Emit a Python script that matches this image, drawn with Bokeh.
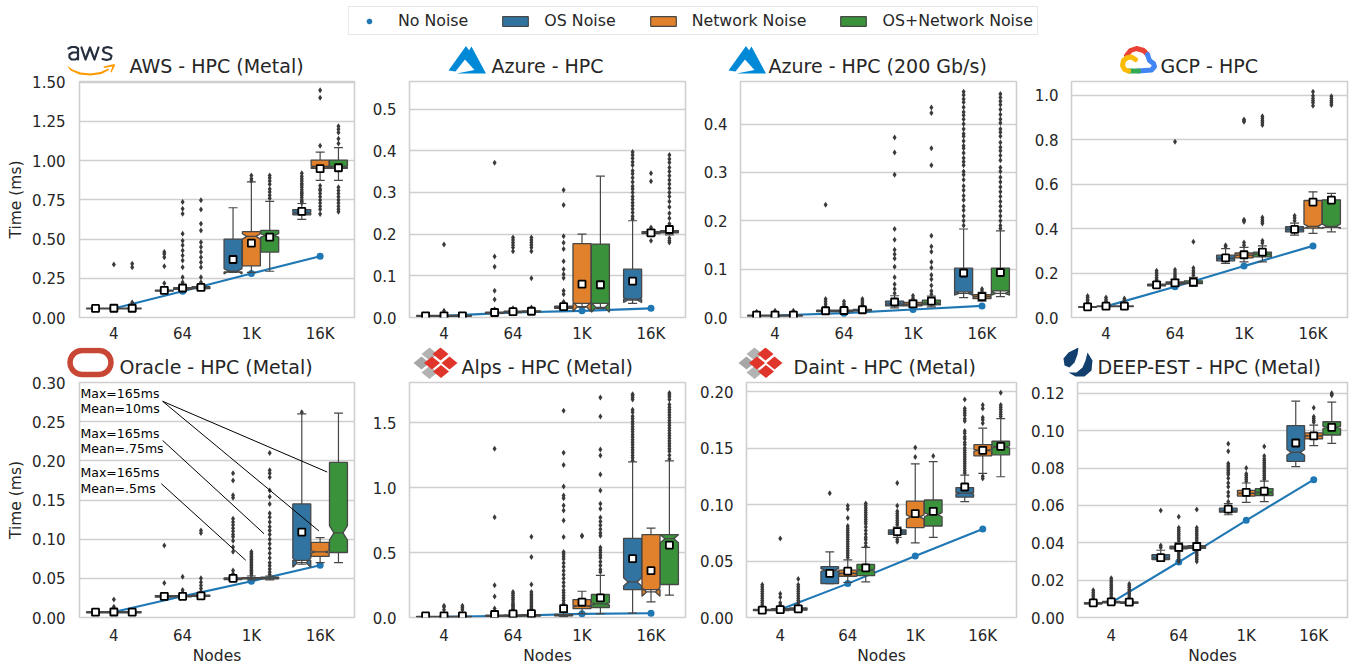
from bokeh.plotting import figure
from bokeh.embed import file_html
from bokeh.resources import INLINE
from bokeh.layouts import column, row
from bokeh.models import (Range1d, FixedTicker, Legend, LegendItem, ColumnDataSource)
from bokeh.core.properties import value
import math

NAN = float("nan")
FONT = "DejaVu Sans"
INK = "#262626"
GROUPS = ["4", "64", "1K", "16K"]
SERIES = ["OS Noise", "Network Noise", "OS+Network Noise"]
NO_NOISE_LABEL = "No Noise"
COLORS = ["#3274a1", "#e1812c", "#3a923a"]
LINE_BLUE = "#1f77b4"

# ---------- AWS
AWS_TITLE = "AWS - HPC (Metal)"
AWS_TICKS = ["0.00", "0.25", "0.50", "0.75", "1.00", "1.25", "1.50"]
AWS_TOP = 1.505
AWS_NONOISE = [0.058, 0.167, 0.28, 0.39]
AWS_Q1 = [.055, .055, .055, .168, .180, .184, .290, .329, .417, .655, .951, .951]
AWS_MED = [.057, .057, .057, .171, .185, .190, .295, .517, .523, .668, .962, .962]
AWS_Q3 = [.059, .059, .059, .174, .190, .196, .500, .547, .555, .688, 1.004, 1.004]
AWS_WLO = [.053, .053, .053, .165, .175, .178, .288, .288, .295, .626, .874, .874]
AWS_WHI = [.061, .061, .061, .180, .195, .205, .700, .865, .741, .727, 1.055, 1.083]
AWS_MEAN = [.058, .059, .059, .173, .188, .192, .370, .474, .513, .677, .949, .955]
AWS_FLIERS = [
    [], [.338], [.342, .32, .096],
    [.417, .405, .385, .327, .218], [.737, .694, .662, .534, .49, .46, .427, .395, .363, .32, .256, .224],
    [.748, .688, .598, .555, .48, .449, .417, .385, .352, .32, .256, .224],
    [], [.87, .885, .905], [.905, .89, .87, .85, .82, .8, .78, .76],
    [.73, .74, .75, .765, .78, .79, .8, .815, .83, .845, .855, .87, .885, .9, .92],
    [1.096, 1.449, 1.402, .84, .82, .81, .79, .77, .75, .73, .71, .69, .66],
    [1.22, 1.2, 1.18, 1.14, 1.11, .83, .81, .79, .77, .75, .73, .71, .69, .675]]

# ---------- Azure HPC
AZ_TITLE = "Azure - HPC"
AZ_TICKS = ["0.0", "0.1", "0.2", "0.3", "0.4", "0.5"]
AZ_TOP = 0.566
AZ_NONOISE = [0.004, 0.012, 0.016, 0.022]
AZ_Q1 = [.003, .003, .003, .010, .012, .013, .022, .034, .034, .044, .201, .203]
AZ_MED = [.004, .004, .004, .011, .013, .014, .024, .026, .024, .042, .203, .205]
AZ_Q3 = [.005, .005, .005, .013, .015, .016, .027, .177, .176, .116, .206, .208]
AZ_WLO = [.002, .002, .002, .009, .010, .011, .020, .024, .022, .034, .197, .198]
AZ_WHI = [.006, .006, .006, .015, .017, .018, .030, .200, .339, .232, .210, .213]
AZ_MEAN = [.004, .004, .004, .012, .014, .015, .026, .080, .0785, .087, .203, .211]
AZ_FLIERS = [
    [], [.175, .016], [],
    [.371, .146, .122, .064, .043, .02], [.192, .186, .18, .174, .168, .159, .022], [.192, .186, .18, .174, .168, .159, .094, .024],
    [.306, .27, .195, .179, .164, .135, .116, .104, .095, .064, .056, .038], [], [],
    [.397, .39, .382, .373, .365, .352, .345, .335, .325, .315, .308, .3, .29, .283, .275, .268, .26, .252, .243, .236],
    [.346, .327, .216, .184], [.39, .38, .372, .36, .35, .34, .33, .32, .31, .3, .29, .278, .265, .25, .238, .225, .216, .19, .184, .18]]

# ---------- Azure HPC 200
A2_TITLE = "Azure - HPC (200 Gb/s)"
A2_TICKS = ["0.0", "0.1", "0.2", "0.3", "0.4"]
A2_TOP = 0.488
A2_NONOISE = [0.004, 0.009, 0.0165, 0.024]
A2_Q1 = [.003, .003, .003, .012, .012, .014, .024, .024, .026, .053, .039, .055]
A2_MED = [.004, .004, .004, .013, .013, .015, .028, .027, .030, .050, .043, .050]
A2_Q3 = [.005, .005, .005, .015, .015, .017, .034, .031, .036, .102, .047, .102]
A2_WLO = [.002, .002, .002, .010, .011, .012, .020, .021, .022, .041, .034, .043]
A2_WHI = [.006, .006, .006, .018, .018, .021, .045, .036, .044, .183, .052, .179]
A2_MEAN = [.005, .005, .005, .014, .0145, .016, .032, .028, .034, .092, .043, .093]
A2_FLIERS = [
    [.012], [.014, .01], [.014, .01],
    [.233, .038, .033, .028, .023, .018], [.028, .024, .02, .033], [.038, .034, .03, .026, .022],
    [.372, .341, .295, .183, .161, .14, .131, .122, .105, .083, .069, .059, .05], [.045, .04, .036], [.434, .423, .35, .315, .169, .147, .136, .115, .103, .088, .079, .066, .055, .048],
    [.467, .46, .452, .445, .435, .425, .418, .41, .4, .39, .38, .375, .365, .355, .35, .34, .33, .322, .315, .302, .295, .285, .272, .263, .252, .243, .23, .222, .21, .2, .19],
    [.059, .055, .05], [.462, .455, .447, .44, .43, .42, .41, .402, .39, .383, .375, .362, .352, .345, .335, .325, .31, .302, .29, .28, .27, .26, .25, .24, .23, .22, .21, .2, .19, .184]]

# ---------- GCP
GC_TITLE = "GCP - HPC"
GC_TICKS = ["0.0", "0.2", "0.4", "0.6", "0.8", "1.0"]
GC_TOP = 1.061
GC_NONOISE = [0.05, 0.138, 0.231, 0.322]
GC_Q1 = [.046, .049, .049, .142, .150, .152, .255, .268, .273, .385, .402, .405]
GC_MED = [.047, .050, .050, .145, .154, .157, .266, .280, .285, .396, .41, .41]
GC_Q3 = [.049, .052, .052, .150, .160, .165, .28, .29, .294, .408, .526, .529]
GC_WLO = [.044, .047, .047, .135, .14, .14, .243, .25, .25, .37, .378, .385]
GC_WHI = [.052, .055, .055, .16, .172, .18, .31, .315, .322, .424, .565, .558]
GC_MEAN = [.048, .051, .051, .147, .156, .159, .268, .282, .294, .396, .519, .528]
GC_FLIERS = [
    [.097, .09, .082, .075, .067], [.09, .08, .072, .067], [.085, .078, .07, .065],
    [.21, .2, .19, .18, .172, .165], [.79, .215, .205, .195, .185, .178], [.34, .222, .21, .2, .19],
    [.325, .318], [.885, .89, .88, .436, .44, .43, .337, .325], [.905, .895, .885, .875, .865, .45, .44, .43, .423, .345, .335],
    [.457, .447, .435], [1.015, .997, .985, .975, .965, .952], [.995, .985, .975, .965, .955]]

# ---------- Oracle
OR_TITLE = "Oracle - HPC (Metal)"
OR_TICKS = ["0.00", "0.05", "0.10", "0.15", "0.20", "0.25", "0.30"]
OR_TOP = 0.30
OR_NONOISE = [0.007, 0.027, 0.0463, 0.0667]
OR_Q1 = [.006, .006, .006, .026, .0265, .027, .0485, .0495, .0495, .073, .078, .083]
OR_MED = [.0066, .0066, .0066, .027, .027, .0275, .049, .05, .05, .07, .0837, .108]
OR_Q3 = [.0075, .0075, .0075, .028, .028, .0285, .0505, .051, .0515, .145, .096, .198]
OR_WLO = [.0055, .0055, .0055, .025, .025, .026, .047, .048, .048, .068, .07, .07]
OR_WHI = [.008, .008, .008, .029, .03, .03, .052, .053, .053, .26, .102, .261]
OR_MEAN = [.0068, .007, .0068, .027, .027, .0275, .05, NAN, NAN, .109, NAN, NAN]
OR_FLIERS = [
    [], [.023, .0136, .011], [],
    [.092, .044], [.052, .035, .032], [.111, .108, .05, .045, .041, .037, .033],
    [.184, .175, .156, .153, .126, .122, .118, .114, .11, .106, .103, .098, .09, .084, .06, .056],
    [.084, .082, .08, .078, .076, .074, .072, .07, .068, .066, .064, .062, .06, .058, .056, .054],
    [.21, .188, .184, .179, .162, .154, .145, .133, .128, .122, .116, .111, .106, .1, .094, .088, .082, .076, .07, .066, .062, .058, .055],
    [.262], [], []]
OR_NOTE_LINES = [["Max=165ms", "Mean=10ms"], ["Max=165ms", "Mean=.75ms"], ["Max=165ms", "Mean=.5ms"]]
OR_NOTE_X = [-0.485, -0.485, -0.485]
OR_NOTE_Y = [[.2865, .2665], [.2355, .2155], [.1845, .1645]]
OR_ARROW_X0 = [.709, .709, .709, .69]
OR_ARROW_Y0 = [.276, .276, .226, .1708]
OR_ARROW_X1 = [2.982, 3.103, 2.184, 1.918]
OR_ARROW_Y1 = [.1105, .1857, .107, .0731]

# ---------- Alps
AL_TITLE = "Alps - HPC (Metal)"
AL_TICKS = ["0.0", "0.5", "1.0", "1.5"]
AL_TOP = 1.81
AL_NONOISE = [0.006, 0.014, 0.028, 0.033]
AL_Q1 = [.004, .004, .004, .008, .009, .01, .012, .069, .077, .215, .215, .254]
AL_MED = [.006, .006, .006, .012, .013, .014, .016, .087, .105, .274, .197, .607]
AL_Q3 = [.009, .009, .009, .018, .02, .022, .024, .138, .177, .61, .638, .638]
AL_WLO = [.002, .002, .002, .005, .005, .005, .006, .03, .03, .033, .12, .172]
AL_WHI = [.012, .012, .012, .03, .035, .04, .04, .202, .325, 1.198, .689, 1.206]
AL_MEAN = [.012, .012, .012, .023, .028, .03, .069, .118, .151, .453, .361, .558]
AL_FLIERS = [
    [], [.09, .08, .06], [.09, .075, .06],
    [1.3, .773, .248, .161, .07], [.197, .185, .17, .155, .14, .125, .11, .1, .09, .08, .07, .06], [.622, .466, .254, .197, .18, .165, .15, .135, .12, .105, .09, .08, .07, .06],
    [1.593, 1.268, 1.175, 1.009, .94, .919, .863, .825, .748, .62, .505, .49, .47, .45, .42, .39, .36, .33, .3, .27, .24, .21, .19, .17, .15, .13, .11, .09, .07],
    [.632, .625], [1.695, 1.549, 1.293, 1.247, 1.101, .978, .876, .837, .77, .74, .71, .68, .65, .63, .54, .52, .5, .48, .46, .43, .4, .37, .35],
    [1.72, 1.71, 1.695, 1.68, 1.6, 1.58, 1.55, 1.53, 1.51, 1.49, 1.47, 1.45, 1.43, 1.41, 1.39, 1.37, 1.35, 1.33, 1.31, 1.29, 1.27, 1.25, 1.23, 1.21],
    [], [1.73, 1.715, 1.7, 1.68, 1.64, 1.62, 1.6, 1.58, 1.56, 1.54, 1.52, 1.5, 1.48, 1.46, 1.44, 1.42, 1.4, 1.38, 1.36, 1.34, 1.32, 1.3, 1.28, 1.25, 1.22]]

# ---------- Daint
DA_TITLE = "Daint - HPC (Metal)"
DA_TICKS = ["0.00", "0.05", "0.10", "0.15", "0.20"]
DA_TOP = 0.208
DA_NONOISE = [0.007, 0.030, 0.0545, 0.0783]
DA_Q1 = [.006, .006, .0065, .03, .0365, .037, .0735, .0795, .081, .1066, .143, .144]
DA_MED = [.0065, .007, .0075, .042, .039, .042, .0755, .089, .091, .11, .148, .151]
DA_Q3 = [.0072, .0078, .0085, .045, .042, .047, .0775, .103, .104, .115, .153, .156]
DA_WLO = [.005, .005, .0055, .03, .031, .0315, .071, .066, .071, .1025, .1275, .1246]
DA_WHI = [.009, .009, .0095, .058, .051, .062, .08, .136, .138, .126, .1676, .176]
DA_MEAN = [.0065, .007, .0077, .039, .041, .044, .076, .092, .094, .1155, .148, .1514]
DA_FLIERS = [
    [.029, .027, .025, .023, .021, .019, .017, .015, .013, .011], [.07, .021, .018, .013, .011],
    [.034, .029, .027, .025, .023, .021, .019, .017, .015, .013, .011],
    [.11], [.099, .096, .088, .081, .079, .077, .075, .073, .071, .069, .067, .065, .063, .061, .059, .057, .055, .053],
    [.101, .099, .097, .095, .093, .091, .089, .087, .085, .083, .08, .077, .074, .071, .069, .066, .063],
    [.119, .099, .094, .092, .09, .088, .086, .084, .082, .069, .067], [.1505, .142], [.143],
    [.193, .185, .183, .181, .179, .176, .174, .165, .163, .16, .158, .155, .153, .15, .148, .146, .144, .142, .14, .138, .136, .134, .132, .13, .128],
    [.188, .185, .177, .175, .172, .125, .123], [.199, .188, .186, .184, .182, .18, .178]]

# ---------- DEEP-EST
DE_TITLE = "DEEP-EST - HPC (Metal)"
DE_TICKS = ["0.00", "0.02", "0.04", "0.06", "0.08", "0.10", "0.12"]
DE_TOP = 0.1258
DE_NONOISE = [0.008, 0.0297, 0.052, 0.0738]
DE_Q1 = [.0072, .0078, .0076, .031, .0368, .037, .0564, .065, .0653, .0836, .0956, .0977]
DE_MED = [.0076, .0082, .008, .032, .0375, .0378, .057, .0665, .067, .0884, .0972, .1018]
DE_Q3 = [.008, .0086, .0084, .0336, .0382, .0385, .0585, .068, .069, .1027, .0988, .1048]
DE_WLO = [.0068, .0074, .0072, .03, .0355, .036, .055, .0616, .062, .0808, .092, .0932]
DE_WHI = [.0086, .009, .0088, .036, .04, .04, .061, .072, .073, .1158, .103, .1153]
DE_MEAN = [.0078, .0084, .0082, .032, .0375, .038, .058, .067, .0676, .0934, .0972, .1018]
DE_FLIERS = [
    [.0146, .0135, .0125, .0115, .0105, .0095],
    [.021, .02, .019, .018, .017, .016, .015, .014, .013, .012, .011, .01],
    [.018, .017, .016, .015, .014, .013, .012, .011, .01],
    [.0573, .0386, .0375],
    [.054, .048, .047, .046, .045, .044, .043, .042, .041, .035, .034, .033, .032, .031, .03],
    [.0578, .048, .047, .046, .045, .044, .043, .042, .041, .035, .034, .033, .032, .031, .03],
    [.093, .089, .0825, .0815, .0805, .0795, .0785, .0775, .0765, .0745, .072, .07, .067, .065, .062],
    [.08, .077, .076, .075, .074, .073], [.0916, .0865, .085, .084, .083, .082, .081, .08, .079, .078, .077, .076, .075, .074],
    [], [.1123, .1075, .1065, .1055, .1045], [.12, .1195, .119]]

PANELS = [
    (AWS_TITLE, AWS_TICKS, AWS_TOP, AWS_NONOISE, AWS_Q1, AWS_MED, AWS_Q3, AWS_WLO, AWS_WHI, AWS_MEAN, AWS_FLIERS),
    (AZ_TITLE, AZ_TICKS, AZ_TOP, AZ_NONOISE, AZ_Q1, AZ_MED, AZ_Q3, AZ_WLO, AZ_WHI, AZ_MEAN, AZ_FLIERS),
    (A2_TITLE, A2_TICKS, A2_TOP, A2_NONOISE, A2_Q1, A2_MED, A2_Q3, A2_WLO, A2_WHI, A2_MEAN, A2_FLIERS),
    (GC_TITLE, GC_TICKS, GC_TOP, GC_NONOISE, GC_Q1, GC_MED, GC_Q3, GC_WLO, GC_WHI, GC_MEAN, GC_FLIERS),
    (OR_TITLE, OR_TICKS, OR_TOP, OR_NONOISE, OR_Q1, OR_MED, OR_Q3, OR_WLO, OR_WHI, OR_MEAN, OR_FLIERS),
    (AL_TITLE, AL_TICKS, AL_TOP, AL_NONOISE, AL_Q1, AL_MED, AL_Q3, AL_WLO, AL_WHI, AL_MEAN, AL_FLIERS),
    (DA_TITLE, DA_TICKS, DA_TOP, DA_NONOISE, DA_Q1, DA_MED, DA_Q3, DA_WLO, DA_WHI, DA_MEAN, DA_FLIERS),
    (DE_TITLE, DE_TICKS, DE_TOP, DE_NONOISE, DE_Q1, DE_MED, DE_Q3, DE_WLO, DE_WHI, DE_MEAN, DE_FLIERS),
]

# ---------- layout constants (page pixels; Bokeh's page template has no body margin)
FIG_W = 1351
GUTTER = 66                           # left gutter holding the first column's y axis
LEFT = [13, 41, 43, 43]
FRAME_W = [275, 276, 276, 276]
RIGHT = [14, 12, 12, 4]
STRIP_Y = [(40, 80), (347, 381)]      # title strips above each row, page y from..to
TITLE_X = [129, 491, 768, 1160, 119, 461, 793, 1097]
TITLE_Y = [65, 65, 65, 65, 366, 366, 366, 366]
TOP = 1
FRAME_H = [236, 235]
BOTTOM = [30, 50]
XTICK_STANDOFF = [7, 9]

BOX_W = 0.8 / 3 * 0.98
STEP = 0.8 / 3
NOTCH_FRAC = 0.08
EDGE = "#474747"


def fill(s, pts, color):
    s.patch([x for x, y in pts], [y for x, y in pts], fill_color=color, line_color=None)


def stroke(s, pts, color, lw):
    s.line([x for x, y in pts], [y for x, y in pts], line_color=color, line_width=lw,
           line_join="round", line_cap="round")


def logo_aws(s):
    navy = "#252f3e"
    stroke(s, [(68, 48), (71, 46.5), (75, 46.5), (77.5, 48), (77.5, 59)], navy, 2.2)
    stroke(s, [(77.5, 52), (72, 52), (69, 54), (69, 57), (71, 59), (75, 59), (77.5, 57)], navy, 2.2)
    stroke(s, [(81, 47), (85, 59), (89.5, 47), (94, 59), (98, 47)], navy, 2.2)
    stroke(s, [(111, 47.5), (107, 46.5), (103.5, 47.5), (102.5, 50), (104, 52), (109, 53.5), (111, 55.5), (110, 58.5), (106, 59.5), (102, 58.5)], navy, 2.2)
    fill(s, [(66.5, 65), (72, 69), (80, 72), (90, 73), (100, 71.5), (108, 68), (108.5, 69.5), (101, 73.5), (90, 75), (79, 74), (70, 70)], "#ff9900")
    fill(s, [(103, 66), (114, 63.5), (114.5, 65), (111, 72), (110, 71), (112, 66), (103.5, 67.5)], "#ff9900")


def logo_azure(s, dx):
    c = "#0089d6"
    fill(s, [(465.5 + dx, 45.5), (448 + dx, 70), (455 + dx, 71), (470 + dx, 52)], c)
    fill(s, [(471 + dx, 46), (485.5 + dx, 73), (456 + dx, 73), (474 + dx, 69.5), (463.5 + dx, 58)], c)


def logo_gcp(s):
    stroke(s, [(1126, 55), (1130, 50), (1136, 48), (1143, 50), (1147, 54)], "#ea4335", 5)
    stroke(s, [(1147, 54), (1149, 60), (1153, 63), (1154, 66), (1151, 69.5), (1138, 70.5)], "#4285f4", 5)
    stroke(s, [(1138, 70.5), (1128, 70.5)], "#34a853", 5)
    stroke(s, [(1128, 70.5), (1124, 69), (1122, 65), (1123, 60), (1127, 57), (1131, 56.5), (1135, 59)], "#fbbc05", 5)


def logo_oracle(s):
    pts = []
    r, cy = 12.0, 362.0
    for cx, a0 in ((98.5, -90), (81.5, 90)):
        for k in range(13):
            a = math.radians(a0 + k * 15)
            pts.append((cx + r * math.cos(a), cy + r * math.sin(a)))
    pts.append(pts[0])
    stroke(s, pts, "#c74634", 5.5)


def logo_cscs(s, dx):
    for cx, cy, c in ((429, 353.5, "#b3b3b3"), (421, 362.5, "#a6a6a6"), (429, 372, "#b3b3b3")):
        fill(s, [(cx - 8 + dx, cy), (cx + dx, cy - 6.5), (cx + 8 + dx, cy), (cx + dx, cy + 6.5)], c)
    for cx, cy in ((440, 353.5), (431.5, 362.5), (449, 362.5), (440.5, 371)):
        fill(s, [(cx - 8 + dx, cy), (cx + dx, cy - 6.5), (cx + 8 + dx, cy), (cx + dx, cy + 6.5)], "#e0352b")


def logo_deep(s):
    c = "#123f6d"
    fill(s, [(1078, 347), (1068, 352), (1063, 358), (1064, 365), (1069, 367), (1074, 362), (1077, 354)], c)
    fill(s, [(1087, 352), (1092, 360), (1091, 370), (1084, 376), (1075, 376), (1068, 372), (1076, 372), (1082, 367), (1085, 360)], c)


def strip(r):
    y0, y1 = STRIP_Y[r]
    s = figure(width=FIG_W - GUTTER, height=y1 - y0, x_range=Range1d(GUTTER, FIG_W), y_range=Range1d(y1, y0),
               min_border=0, output_backend="svg", toolbar_location=None, tools="")
    s.xaxis.visible = False
    s.yaxis.visible = False
    s.grid.visible = False
    s.outline_line_color = None
    ids = range(r * 4, r * 4 + 4)
    s.text([TITLE_X[i] for i in ids], [TITLE_Y[i] for i in ids], text=[PANELS[i][0] for i in ids],
           text_font=value(FONT), text_font_size="19px", text_color=INK,
           text_baseline="middle", text_align="left")
    if r == 0:
        logo_aws(s)
        logo_azure(s, 0)
        logo_azure(s, 280)
        logo_gcp(s)
    else:
        logo_oracle(s)
        logo_cscs(s, 0)
        logo_cscs(s, 325)
        logo_deep(s)
    return s


def style_axis(ax):
    ax.axis_line_color = None
    ax.major_tick_line_color = None
    ax.minor_tick_line_color = None
    ax.major_tick_out = 0
    ax.major_tick_in = 0
    ax.major_label_text_font = FONT
    ax.major_label_text_font_size = "15px"
    ax.major_label_text_color = INK
    ax.axis_label_text_font = FONT
    ax.axis_label_text_font_size = "15.5px"
    ax.axis_label_text_font_style = "normal"
    ax.axis_label_text_color = INK


def gutter(r):
    """The y axis of a row's first panel, on its own canvas so that its top label has room."""
    ticks, top = PANELS[r * 4][1], PANELS[r * 4][2]
    y0, y1 = STRIP_Y[r]
    g = figure(width=GUTTER, height=(y1 - y0) + TOP + FRAME_H[r] + BOTTOM[r],
               min_border_left=GUTTER - 1, min_border_right=0, min_border_top=(y1 - y0) + TOP, min_border_bottom=BOTTOM[r],
               x_range=Range1d(0, 1), y_range=Range1d(0, top),
               output_backend="svg", toolbar_location=None, tools="")
    g.outline_line_color = None
    g.grid.visible = False
    g.xaxis.visible = False
    g.yaxis.ticker = FixedTicker(ticks=[float(t) for t in ticks])
    g.yaxis.major_label_overrides = {float(t): t for t in ticks}
    style_axis(g.yaxis[0])
    g.yaxis.major_label_standoff = 0
    g.yaxis.axis_label = "Time (ms)"
    g.yaxis.axis_label_standoff = 4
    g.line([0, 1], [NAN, NAN])
    return g


def build(i):
    _, ticks, top, nonoise, q1, med, q3, wlo, whi, mean, fliers = PANELS[i]
    c, r = i % 4, i // 4
    p = figure(width=LEFT[c] + FRAME_W[c] + RIGHT[c], height=TOP + FRAME_H[r] + BOTTOM[r],
               min_border_left=LEFT[c], min_border_right=RIGHT[c], min_border_top=TOP, min_border_bottom=BOTTOM[r],
               x_range=Range1d(-0.5, 3.5), y_range=Range1d(0, top),
               output_backend="svg", toolbar_location=None, tools="")

    p.outline_line_color = "#cfcfcf"
    p.outline_line_width = 1.6
    p.xgrid.visible = False
    p.ygrid.grid_line_color = "#cfcfcf"
    p.ygrid.grid_line_width = 1.3
    p.ygrid.ticker = FixedTicker(ticks=[float(t) for t in ticks])

    p.xaxis.ticker = FixedTicker(ticks=list(range(len(GROUPS))))
    p.xaxis.major_label_overrides = {k: g for k, g in enumerate(GROUPS)}
    p.yaxis.ticker = FixedTicker(ticks=[float(t) for t in ticks])
    p.yaxis.major_label_overrides = {float(t): t for t in ticks}
    style_axis(p.xaxis[0])
    style_axis(p.yaxis[0])
    p.xaxis.major_label_standoff = XTICK_STANDOFF[r]
    p.yaxis.major_label_standoff = 13
    if c == 0:
        p.yaxis.visible = False
    if r == 1:
        p.xaxis.axis_label = "Nodes"
        p.xaxis.axis_label_standoff = -1

    # no-noise line
    xs_g = list(range(len(GROUPS)))
    p.line(xs_g, nonoise, line_color=LINE_BLUE, line_width=2.1)
    p.scatter(xs_g, nonoise, size=7, marker="circle", fill_color=LINE_BLUE, line_color=LINE_BLUE, line_width=0)

    # boxes
    wxs0, wys0, wxs1, wys1 = [], [], [], []
    pxs, pys, pcol, mxs, mys = [], [], [], [], []
    cx0, cy0, cx1, cy1 = [], [], [], []
    fx, fy = [], []
    mdx0, mdx1, mdy = [], [], []
    for k in range(12):
        g, s = k // 3, k % 3
        cx = g + (s - 1) * STEP
        l, rr = cx - BOX_W / 2, cx + BOX_W / 2
        wl, wr = cx - BOX_W / 4, cx + BOX_W / 4
        a, m, b = q1[k], med[k], q3[k]
        nh = NOTCH_FRAC * (b - a)
        pxs.append([l, l, wl, l, l, rr, rr, wr, rr, rr])
        pys.append([a, m - nh, m, m + nh, b, b, m + nh, m, m - nh, a])
        pcol.append(COLORS[s])
        wxs0 += [cx, cx]
        wys0 += [a, b]
        wxs1 += [cx, cx]
        wys1 += [wlo[k], whi[k]]
        cx0 += [wl, wl]
        cx1 += [wr, wr]
        cy0 += [wlo[k], whi[k]]
        cy1 += [wlo[k], whi[k]]
        mdx0.append(wl)
        mdx1.append(wr)
        mdy.append(m)
        for v in fliers[k]:
            fx.append(cx)
            fy.append(v)
        mxs.append(cx)
        mys.append(mean[k])

    p.scatter(fx, fy, marker="diamond", size=6, fill_color="#3a3a3a", line_color=None)
    p.segment(wxs0, wys0, wxs1, wys1, line_color=EDGE, line_width=1.2)
    p.segment(cx0, cy0, cx1, cy1, line_color=EDGE, line_width=1.2)
    p.patches(pxs, pys, fill_color=pcol, line_color=EDGE, line_width=1.3)
    p.segment(mdx0, mdy, mdx1, mdy, line_color=EDGE, line_width=1.3)
    p.scatter(mxs, mys, marker="square", size=7, fill_color="white", line_color="black", line_width=1.8)

    if i == 4:
        for x, ys, lines in zip(OR_NOTE_X, OR_NOTE_Y, OR_NOTE_LINES):
            p.text([x, x], ys, text=lines, text_font=value(FONT), text_font_size="12.5px",
                   text_color="black", text_baseline="middle", text_align="left")
        p.segment(OR_ARROW_X0, OR_ARROW_Y0, OR_ARROW_X1, OR_ARROW_Y1, line_color="black", line_width=1.0)
    return p


figs = [build(i) for i in range(8)]

# ---------- legend strip (its proxies hold no visible data: only the key swatches show)
h = figure(width=FIG_W, height=40, x_range=Range1d(0, 1), y_range=Range1d(0, 1),
           min_border=0, output_backend="svg", toolbar_location=None, tools="")
h.xaxis.visible = False
h.yaxis.visible = False
h.grid.visible = False
h.outline_line_color = None
proxy = {"x": [NAN], "y": [NAN], "l": [NAN], "r": [NAN], "t": [NAN], "b": [NAN]}
r0 = h.scatter("x", "y", source=ColumnDataSource(proxy), size=7, marker="circle", fill_color=LINE_BLUE, line_color=LINE_BLUE)
items = [LegendItem(label=NO_NOISE_LABEL, renderers=[r0])]
for name, col in zip(SERIES, COLORS):
    q = h.quad(left="l", right="r", top="t", bottom="b", source=ColumnDataSource(proxy),
               fill_color=col, line_color=EDGE, line_width=1.2)
    items.append(LegendItem(label=name, renderers=[q]))
leg = Legend(items=items, orientation="horizontal", location=(348, 5),
             glyph_width=32, glyph_height=12, label_height=15, label_standoff=13, spacing=31, padding=4, margin=0,
             label_text_font=FONT, label_text_font_size="15.8px", label_text_color=INK,
             border_line_color="#cfcfcf", border_line_width=1.2, background_fill_alpha=1.0)
h.add_layout(leg)

row1 = row(gutter(0), column(strip(0), row(*figs[:4], spacing=0), spacing=0), spacing=0)
row2 = row(gutter(1), column(strip(1), row(*figs[4:], spacing=0), spacing=0), spacing=0)
page = column(h, row1, row2, spacing=0)
open("out.html", "w").write(file_html(page, INLINE))
